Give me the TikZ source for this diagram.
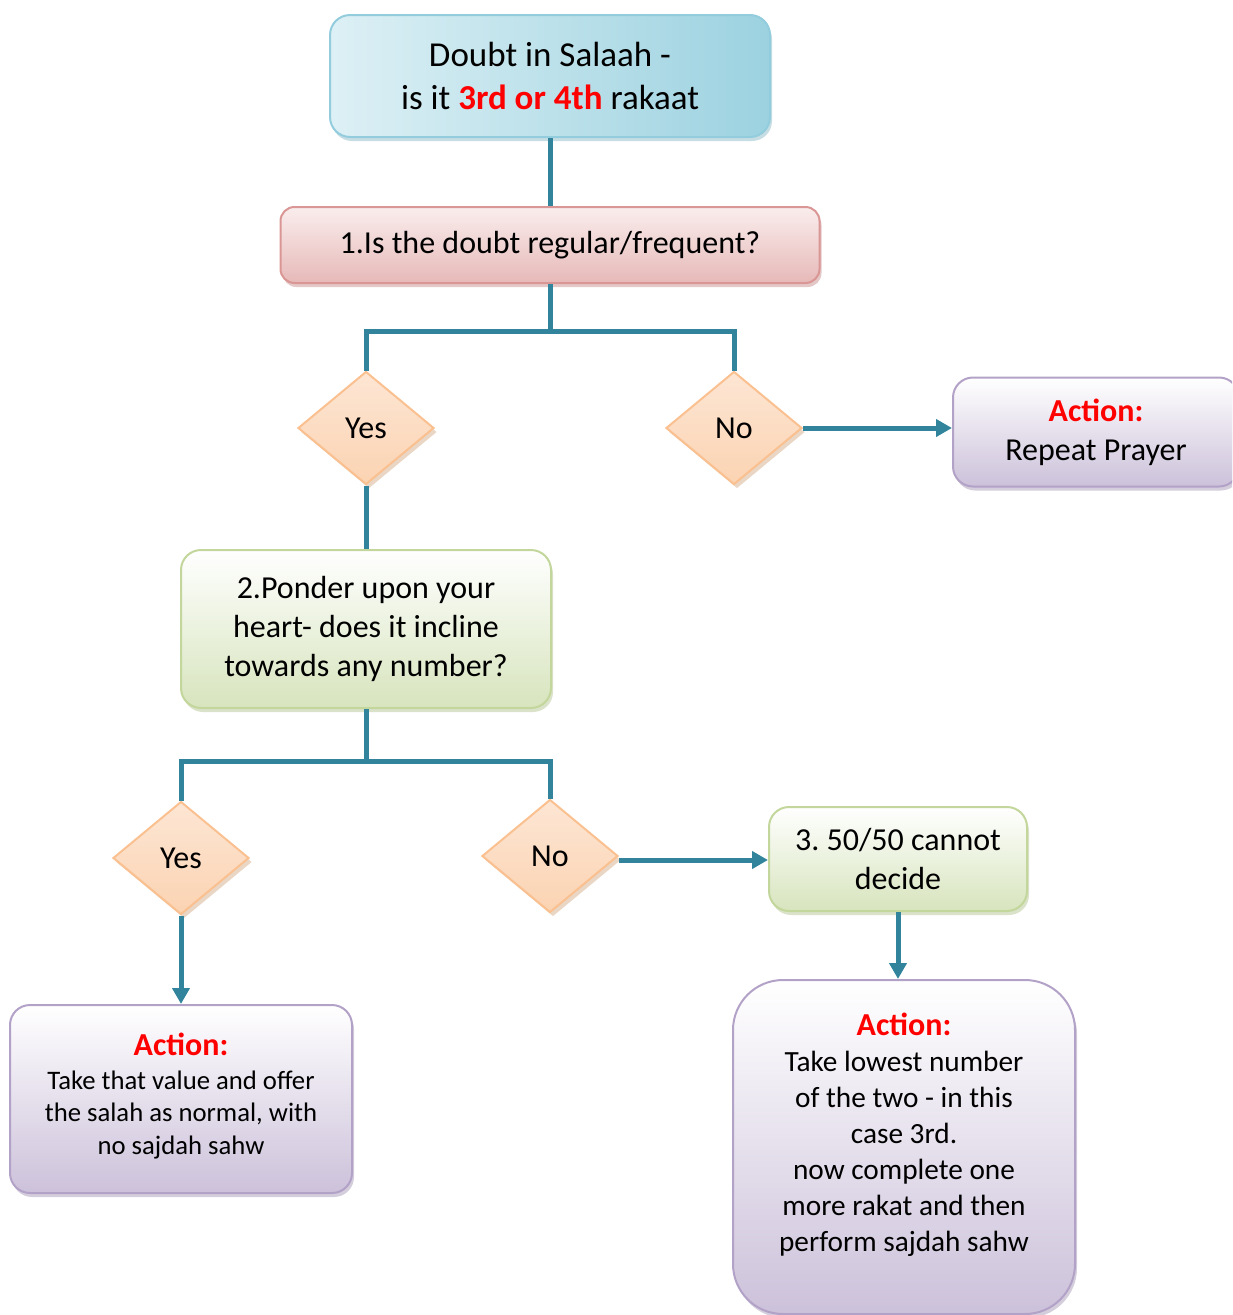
\documentclass[tikz,border=0pt]{standalone}
\usepackage{fontspec}
\setmainfont{Carlito}
\usetikzlibrary{shapes.geometric,shadows,arrows.meta}
\frenchspacing

\definecolor{linkc}{HTML}{31849B}
\definecolor{bluedge}{HTML}{93CDDD}
\definecolor{bluelt}{HTML}{DDF0F5}
\definecolor{bluedk}{HTML}{9CD2E0}
\definecolor{pinkedge}{HTML}{D99694}
\definecolor{pinklt}{HTML}{FAEDED}
\definecolor{pinkdk}{HTML}{E6B9B8}
\definecolor{peachedge}{HTML}{FAC090}
\definecolor{peachlt}{HTML}{FDE6D4}
\definecolor{peachdk}{HTML}{FBD3B2}
\definecolor{greenedge}{HTML}{C3D69B}
\definecolor{greendk}{HTML}{D7E4BD}
\definecolor{purpedge}{HTML}{B3A2C7}
\definecolor{purpdk}{HTML}{CCC1DA}

\tikzset{
  conn/.style={draw=linkc, line width=5pt},
  arr/.style={conn, -{Triangle[length=16pt,width=17pt]}},
  boxbase/.style={rectangle, rounded corners=20pt, line width=2pt, align=center,
    inner sep=0pt, font=\fontsize{32}{39}\selectfont},
  topbox/.style={boxbase, draw=bluedge, left color=bluelt, right color=bluedk,
    font=\fontsize{35}{43}\selectfont,
    drop shadow={shadow xshift=2pt, shadow yshift=-4pt, fill=linkc!55!white}},
  pinkbox/.style={boxbase, rounded corners=14pt, draw=pinkedge, top color=pinklt, bottom color=pinkdk,
    drop shadow={shadow xshift=2pt, shadow yshift=-4pt, fill=pinkedge!80!gray}},
  greenbox/.style={boxbase, draw=greenedge, top color=white, bottom color=greendk,
    drop shadow={shadow xshift=2pt, shadow yshift=-4pt, fill=greenedge!80!gray}},
  purpbox/.style={boxbase, draw=purpedge, top color=white, bottom color=purpdk,
    drop shadow={shadow xshift=2pt, shadow yshift=-4pt, fill=purpedge!80!gray}},
  choice/.style={diamond, draw=peachedge, line width=2pt, top color=peachlt, bottom color=peachdk,
    inner sep=0pt, minimum width=136pt, minimum height=113pt,
    font=\fontsize{32}{39}\selectfont,
    drop shadow={shadow xshift=3pt, shadow yshift=-4pt, fill=peachedge!70!gray}}
}

\begin{document}
\begin{tikzpicture}[x=1pt,y=-1pt]
  \path[use as bounding box] (0,0) rectangle (1232,1315);
  \clip (0,0) rectangle (1232,1315);

  % question boxes
  \node[topbox, minimum width=440pt, minimum height=122pt] (top) at (550,76)
    {Doubt in Salaah -\\ is it \textcolor{red}{\bfseries 3rd or 4th} rakaat};
  \node[pinkbox, minimum width=539pt, minimum height=76pt] (q1) at (550,245)
    {1.Is the doubt regular/frequent?};

  \node[choice] (yes1) at (366,428) {Yes};
  \node[choice] (no1) at (734,428) {No};

  \node[purpbox, minimum width=286pt, minimum height=109pt] (rep) at (1096,432)
    {{\bfseries\color{red}Action:}\\ Repeat Prayer};

  \node[greenbox, minimum width=370pt, minimum height=158pt] (q2) at (366,629)
    {2.Ponder upon your\\ heart- does it incline\\ towards any number?};

  \node[choice] (yes2) at (181,858) {Yes};
  \node[choice] (no2) at (550,856) {No};

  \node[greenbox, minimum width=258pt, minimum height=104pt] (q3) at (898,859)
    {3. 50/50 cannot\\ decide};

  % action boxes
  \node[purpbox, minimum width=342pt, minimum height=188pt] (actL) at (181,1099) {};
  \node[align=center, font=\fontsize{26.7}{32.5}\selectfont] (actLtxt) at (181,1096)
    {{\bfseries\fontsize{32}{36}\selectfont\color{red}Action:}\\[1pt]
     Take that value and offer\\ the salah as normal, with\\ no sajdah sahw};

  \node[purpbox, rounded corners=50pt, minimum width=342pt, minimum height=334pt] (actR) at (904,1147) {};
  \node[align=center, font=\fontsize{29.3}{36}\selectfont] (actRtxt) at (904,1135)
    {{\bfseries\fontsize{32}{36}\selectfont\color{red}Action:}\\
     Take lowest number\\ of the two - in this\\ case 3rd.\\ now complete one\\ more rakat and then\\ perform sajdah sahw};

  % connectors
  \coordinate (j1) at (550,331);
  \coordinate (j2) at (366,761);
  \draw[conn] (top.south) -- (q1.north);
  \draw[conn] (q1.south) -- (j1);
  \draw[conn, line join=miter] (yes1.north) |- (j1) -| (no1.north);
  \draw[arr] (no1.east) -- (no1.east -| rep.west);
  \draw[conn] (yes1.south) -- (q2.north);
  \draw[conn] (q2.south) -- (j2);
  \draw[conn, line join=miter] (yes2.north) |- (j2) -| (no2.north);
  \draw[arr] ([yshift=-4pt]no2.east) -- ([yshift=-4pt]no2.east -| q3.west);
  \draw[arr] (yes2.south) -- (actL.north);
  \draw[arr] (q3.south) -- (q3.south |- actR.north);
\end{tikzpicture}
\end{document}
